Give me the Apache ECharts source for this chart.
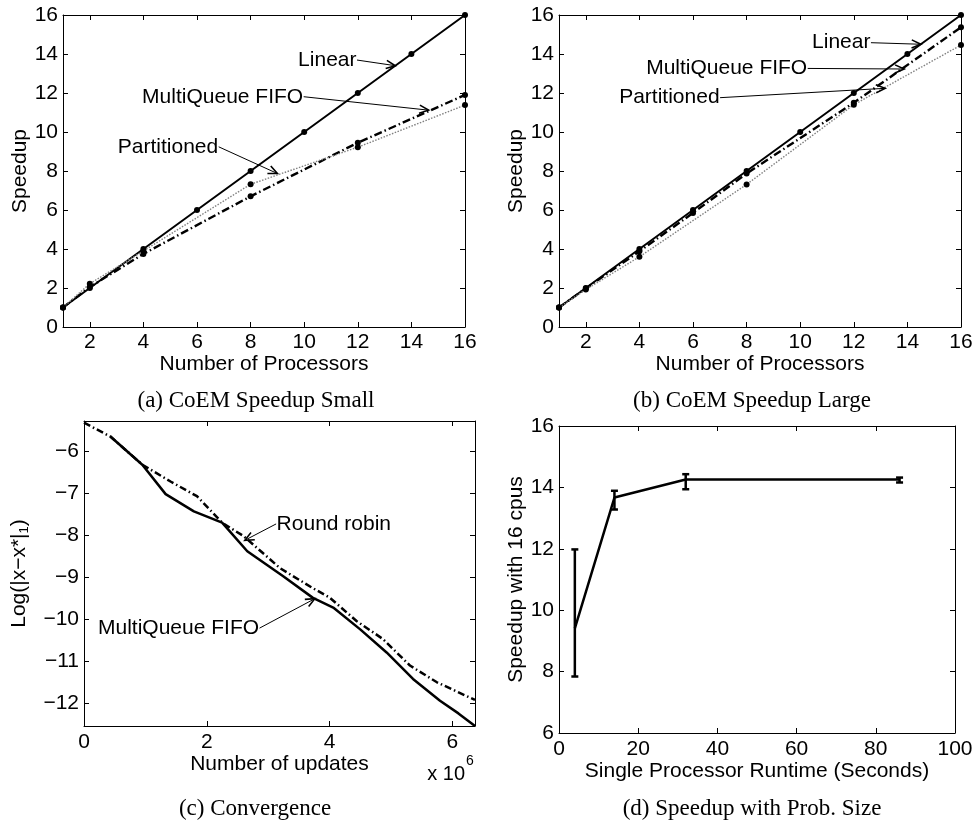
<!DOCTYPE html>
<html>
<head>
<meta charset="utf-8">
<script src="https://cdn.jsdelivr.net/npm/echarts@6/dist/echarts.min.js"></script>
<style>
  html, body { margin: 0; padding: 0; background: #fff; }
  #chart { width: 976px; height: 825px; }
</style>
</head>
<body>
<div id="chart"></div>
<script>
// ---- (a) CoEM speedup, small problem ----
const procLinearA = [1, 2, 4, 6, 8, 10, 12, 14, 16];
const speedLinearA = [1, 2, 4, 6, 8, 10, 12, 14, 16];
const procFifoA = [1, 2, 4, 8, 12, 16];
const speedFifoA = [1, 2.05, 3.75, 6.7, 9.45, 11.9];
const procPartA = [1, 2, 4, 8, 12, 16];
const speedPartA = [1, 2.22, 3.9, 7.32, 9.22, 11.38];

// ---- (b) CoEM speedup, large problem ----
const procLinearB = [1, 2, 4, 6, 8, 10, 12, 14, 16];
const speedLinearB = [1, 2, 4, 6, 8, 10, 12, 14, 16];
const procFifoB = [1, 2, 4, 6, 8, 12, 16];
const speedFifoB = [1, 1.98, 3.88, 5.85, 7.87, 11.5, 15.37];
const procPartB = [1, 2, 4, 8, 12, 16];
const speedPartB = [1, 1.92, 3.6, 7.31, 11.4, 14.46];

// ---- (c) convergence (updates in millions) ----
const updatesFifoC = [0.43, 0.95, 1.33, 1.79, 2.25, 2.66, 3.24, 3.73, 4.06, 4.5, 4.93, 5.36, 5.8, 6.1, 6.37];
const errFifoC = [-5.66, -6.33, -7.03, -7.44, -7.71, -8.39, -8.98, -9.5, -9.73, -10.25, -10.8, -11.43, -11.95, -12.25, -12.55];
const updatesRrC = [0, 0.43, 0.95, 1.41, 1.84, 2.25, 2.6, 3.2, 3.73, 4.0, 4.44, 4.87, 5.31, 5.75, 6.37];
const errRrC = [-5.33, -5.66, -6.33, -6.73, -7.08, -7.71, -8.03, -8.8, -9.27, -9.49, -10.05, -10.48, -11.11, -11.51, -11.93];

// ---- (d) speedup with 16 cpus vs single processor runtime ----
const runtimeD = [4, 14, 32, 86];
const speedD = [9.41, 13.67, 14.26, 14.26];
const speedLowD = [7.84, 13.28, 13.94, 14.16];
const speedHighD = [11.98, 13.89, 14.43, 14.32];

// ---- tick values ----
const procTicks = [2, 4, 6, 8, 10, 12, 14, 16];
const speedTicks = [0, 2, 4, 6, 8, 10, 12, 14, 16];
const updateTicks = [0, 2, 4, 6];
const logErrTicks = [-12, -11, -10, -9, -8, -7, -6];
const runtimeTicks = [0, 20, 40, 60, 80, 100];
const speed16Ticks = [6, 8, 10, 12, 14, 16];

const SANS = 'Liberation Sans';
const SERIF = 'Liberation Serif';
const FS = 21;

const zip = (xs, ys) => xs.map((x, i) => [x, ys[i]]);
const fmtNum = v => (v < 0 ? '\u2212' + Math.abs(v) : String(v));

function axis(pos, grid, min, max, ticks, opt) {
  opt = opt || {};
  const labelled = pos === 'bottom' || pos === 'left';
  const a = {
    type: 'value', gridIndex: grid, position: pos, min: min, max: max,
    axisLine: { show: true, onZero: false, lineStyle: { color: '#000', width: 1 } },
    axisTick: { show: true, inside: true, length: 5, customValues: ticks, lineStyle: { color: '#000', width: 1 } },
    axisLabel: {
      show: labelled, customValues: ticks, margin: opt.margin || 5,
      fontSize: FS, fontFamily: SANS, color: '#000', formatter: fmtNum
    },
    splitLine: { show: false }
  };
  if (labelled && opt.name) {
    a.name = opt.name;
    a.nameLocation = 'middle';
    a.nameGap = opt.nameGap;
    a.nameTextStyle = Object.assign({ fontSize: FS, fontFamily: SANS, color: '#000' }, opt.nameStyle || {});
  }
  return a;
}

const xAxes = [
  axis('bottom', 0, 1, 16, procTicks, { name: 'Number of Processors', nameGap: 25 }),
  axis('top', 0, 1, 16, procTicks),
  axis('bottom', 1, 1, 16, procTicks, { name: 'Number of Processors', nameGap: 25 }),
  axis('top', 1, 1, 16, procTicks),
  axis('bottom', 2, 0, 6.37, updateTicks, { name: 'Number of updates', nameGap: 25, margin: 6 }),
  axis('top', 2, 0, 6.37, updateTicks),
  axis('bottom', 3, 0, 100, runtimeTicks, { name: 'Single Processor Runtime (Seconds)', nameGap: 27, margin: 6 }),
  axis('top', 3, 0, 100, runtimeTicks)
];

const yAxes = [
  axis('left', 0, 0, 16, speedTicks, { name: 'Speedup', nameGap: 31 }),
  axis('right', 0, 0, 16, speedTicks),
  axis('left', 1, 0, 16, speedTicks, { name: 'Speedup', nameGap: 31 }),
  axis('right', 1, 0, 16, speedTicks),
  axis('left', 2, -12.55, -5.29, logErrTicks, {
    name: 'Log(|x\u2212x*|{s|1})', nameGap: 53,
    nameStyle: { rich: { s: { fontSize: 13, fontFamily: SANS, color: '#000', padding: [10, 0, 0, 0] } } }
  }),
  axis('right', 2, -12.55, -5.29, logErrTicks),
  axis('left', 3, 6, 16, speed16Ticks, { name: 'Speedup with 16 cpus', nameGap: 31 }),
  axis('right', 3, 6, 16, speed16Ticks)
];

function lineSeries(panel, data, style, withSymbols) {
  return {
    type: 'line', xAxisIndex: panel * 2, yAxisIndex: panel * 2, data: data,
    showSymbol: !!withSymbols, symbol: 'circle', symbolSize: 6,
    itemStyle: { color: '#000' },
    lineStyle: style, z: 3
  };
}

// text labels, anchored at a data point of the panel
function labelMarks(labels) {
  return {
    markPoint: {
      symbol: 'circle', symbolSize: 1, itemStyle: { color: 'rgba(0,0,0,0)' },
      silent: true, animation: false,
      data: labels.map(l => ({
        coord: [l.x, l.y],
        label: { show: true, position: l.side, distance: 0, formatter: l.text, fontSize: FS, fontFamily: SANS, color: '#000' }
      }))
    }
  };
}

// arrows from a label to a curve: [x1, y1, x2, y2] in data units, open head at (x2, y2)
function arrowSeries(panel, arrows) {
  return {
    type: 'custom', xAxisIndex: panel * 2, yAxisIndex: panel * 2,
    data: arrows, encode: { x: [0, 2], y: [1, 3] }, z: 5, silent: true,
    renderItem: function (params, api) {
      const p1 = api.coord([api.value(0), api.value(1)]);
      const p2 = api.coord([api.value(2), api.value(3)]);
      const ang = Math.atan2(p2[1] - p1[1], p2[0] - p1[0]);
      const len = 10, spread = 0.42;
      const h1 = [p2[0] - len * Math.cos(ang - spread), p2[1] - len * Math.sin(ang - spread)];
      const h2 = [p2[0] - len * Math.cos(ang + spread), p2[1] - len * Math.sin(ang + spread)];
      const st = { stroke: '#000', lineWidth: 1, fill: null };
      return {
        type: 'group',
        children: [
          { type: 'line', shape: { x1: p1[0], y1: p1[1], x2: p2[0], y2: p2[1] }, style: st },
          { type: 'polyline', shape: { points: [h1, p2, h2] }, style: { stroke: '#000', lineWidth: 1.6, fill: null } }
        ]
      };
    }
  };
}

const solidBlack = { color: '#000', width: 2, type: 'solid' };
const dashDot = { color: '#000', width: 2.4, type: [8, 3, 1.5, 3] };
const dotted = { color: '#808080', width: 1.4, type: [1.5, 1.5] };

const series = [
  // (a)
  Object.assign(lineSeries(0, zip(procLinearA, speedLinearA), solidBlack, true), labelMarks([
    { text: 'Linear', x: 11.97, y: 13.69, side: 'left' },
    { text: 'MultiQueue FIFO', x: 9.98, y: 11.81, side: 'left' },
    { text: 'Partitioned', x: 6.81, y: 9.24, side: 'left' }
  ])),
  lineSeries(0, zip(procFifoA, speedFifoA), dashDot, true),
  lineSeries(0, zip(procPartA, speedPartA), dotted, true),
  arrowSeries(0, [
    [11.97, 13.69, 13.4, 13.4],
    [9.98, 11.81, 14.64, 11.12],
    [6.81, 9.24, 9.0, 7.87]
  ]),
  // (b)
  Object.assign(lineSeries(1, zip(procLinearB, speedLinearB), solidBlack, true), labelMarks([
    { text: 'Linear', x: 12.64, y: 14.58, side: 'left' },
    { text: 'MultiQueue FIFO', x: 10.28, y: 13.26, side: 'left' },
    { text: 'Partitioned', x: 7.01, y: 11.76, side: 'left' }
  ])),
  lineSeries(1, zip(procFifoB, speedFifoB), dashDot, true),
  lineSeries(1, zip(procPartB, speedPartB), dotted, true),
  arrowSeries(1, [
    [12.64, 14.58, 14.5, 14.5],
    [10.28, 13.26, 13.88, 13.23],
    [7.01, 11.76, 13.17, 12.24]
  ]),
  // (c)
  Object.assign(lineSeries(2, zip(updatesFifoC, errFifoC), { color: '#000', width: 2.5, type: 'solid' }, false), labelMarks([
    { text: 'Round robin', x: 3.13, y: -7.74, side: 'right' },
    { text: 'MultiQueue FIFO', x: 2.86, y: -10.22, side: 'left' }
  ])),
  lineSeries(2, zip(updatesRrC, errRrC), { color: '#000', width: 2.5, type: [7, 3, 1.5, 3] }, false),
  arrowSeries(2, [
    [3.13, -7.74, 2.62, -8.13],
    [2.86, -10.22, 3.76, -9.52]
  ]),
  // (d)
  lineSeries(3, zip(runtimeD, speedD), { color: '#000', width: 2.5, type: 'solid' }, false),
  {
    type: 'custom', xAxisIndex: 6, yAxisIndex: 6,
    data: runtimeD.map((x, i) => [x, speedLowD[i], speedHighD[i]]),
    encode: { x: 0, y: [1, 2] },
    z: 4,
    renderItem: function (params, api) {
      const x = api.value(0);
      const lo = api.coord([x, api.value(1)]);
      const hi = api.coord([x, api.value(2)]);
      const cap = 3.5;
      const st = { stroke: '#000', lineWidth: 2.5 };
      return {
        type: 'group',
        children: [
          { type: 'line', shape: { x1: lo[0], y1: lo[1], x2: hi[0], y2: hi[1] }, style: st },
          { type: 'line', shape: { x1: hi[0] - cap, y1: hi[1], x2: hi[0] + cap, y2: hi[1] }, style: st },
          { type: 'line', shape: { x1: lo[0] - cap, y1: lo[1], x2: lo[0] + cap, y2: lo[1] }, style: st }
        ]
      };
    }
  }
];

const captionFont = '23px "' + SERIF + '"';
const graphic = [
  { type: 'text', x: 256, y: 401, style: { text: '(a) CoEM Speedup Small', font: captionFont, fill: '#000', align: 'center', verticalAlign: 'middle' } },
  { type: 'text', x: 752, y: 401, style: { text: '(b) CoEM Speedup Large', font: captionFont, fill: '#000', align: 'center', verticalAlign: 'middle' } },
  { type: 'text', x: 255, y: 809, style: { text: '(c) Convergence', font: captionFont, fill: '#000', align: 'center', verticalAlign: 'middle' } },
  { type: 'text', x: 752, y: 809, style: { text: '(d) Speedup with Prob. Size', font: captionFont, fill: '#000', align: 'center', verticalAlign: 'middle' } },
  // axis multiplier for panel (c)
  { type: 'text', x: 465, y: 774, style: { text: 'x 10', font: '20px "' + SANS + '"', fill: '#000', align: 'right', verticalAlign: 'middle' } },
  { type: 'text', x: 466, y: 761, style: { text: '6', font: '14px "' + SANS + '"', fill: '#000', align: 'left', verticalAlign: 'middle' } }
];

const chart = echarts.init(document.getElementById('chart'), null, { renderer: 'canvas' });
chart.setOption({
  backgroundColor: '#fff',
  animation: false,
  textStyle: { fontFamily: SANS },
  grid: [
    { left: 63, top: 15, width: 402, height: 312, containLabel: false, outerBoundsMode: 'none' },
    { left: 559, top: 15, width: 402, height: 312, containLabel: false, outerBoundsMode: 'none' },
    { left: 84, top: 421, width: 391, height: 305, containLabel: false, outerBoundsMode: 'none' },
    { left: 559, top: 426, width: 396, height: 307, containLabel: false, outerBoundsMode: 'none' }
  ],
  xAxis: xAxes,
  yAxis: yAxes,
  series: series,
  graphic: graphic
});
</script>
</body>
</html>
